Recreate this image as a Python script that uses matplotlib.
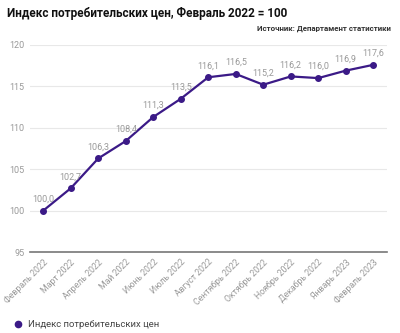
import matplotlib.pyplot as plt

months = ["Февраль 2022", "Март 2022", "Апрель 2022", "Май 2022", "Июнь 2022",
          "Июль 2022", "Август 2022", "Сентябрь 2022", "Октябрь 2022",
          "Ноябрь 2022", "Декабрь 2022", "Январь 2023", "Февраль 2023"]
cpi = [100.0, 102.7, 106.3, 108.4, 111.3, 113.5, 116.1, 116.5, 115.2,
       116.2, 116.0, 116.9, 117.6]
yticks = [95, 100, 105, 110, 115, 120]

plt.rcParams["font.family"] = ["Roboto", "DejaVu Sans"]
line_color = "#3b1a87"

fig = plt.figure(figsize=(4.0, 3.33), dpi=100)
ax = fig.add_axes([0.075, 0.243, 0.8925, 0.622])

x = list(range(len(months)))
ax.plot(x, cpi, color=line_color, linewidth=1.6, marker="o", markersize=4,
        label="Индекс потребительских цен", zorder=3)
for xi, v in zip(x, cpi):
    ax.annotate(f"{v:.1f}".replace(".", ","), (xi, v), xytext=(0, 5),
                textcoords="offset points", ha="center", va="bottom",
                fontsize=6.5, color="#999999")

ax.set_xlim(-0.48, 12.5)
ax.set_ylim(95, 120)
ax.set_yticks(yticks)
ax.set_yticklabels([str(t) for t in yticks], fontsize=6.5, color="#999999")
ax.set_xticks(x)
ax.set_xticklabels(months, rotation=45, ha="right", rotation_mode="anchor",
                   fontsize=6.3, color="#999999")
ax.tick_params(length=0, pad=4)
ax.grid(axis="y", color="#e8e8e8", linewidth=0.8)
ax.set_axisbelow(True)
for s in ["top", "right", "left"]:
    ax.spines[s].set_visible(False)
ax.spines["bottom"].set_color("#777777")
ax.spines["bottom"].set_linewidth(1.2)
ax.spines["bottom"].set_zorder(2)

fig.text(0.018, 0.958, "Индекс потребительских цен, Февраль 2022 = 100",
         fontsize=8.5, fontweight="bold", ha="left", va="center", color="#111111")
fig.text(0.978, 0.913, "Источник: Департамент статистики",
         fontsize=5.7, fontweight="bold", ha="right", va="center", color="#333333")

fig.legend(loc="lower left", bbox_to_anchor=(0.015, -0.015), frameon=False,
           fontsize=6.8, handlelength=0.8, handletextpad=0.6,
           labelcolor="#444444")
leg = fig.legends[0]
for h in leg.legend_handles:
    h.set_linestyle("")
    h.set_markersize(4.5)

fig.savefig("out.png", dpi=100)
